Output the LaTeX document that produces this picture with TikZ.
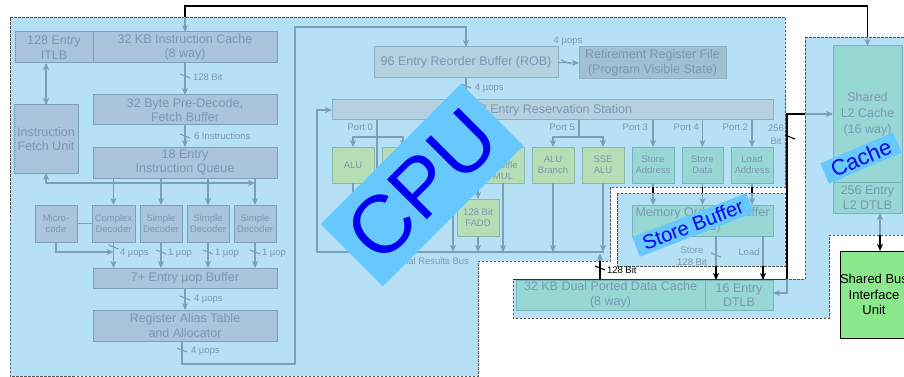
\documentclass[tikz,border=0pt]{standalone}
\usepackage{fontspec}
\setmainfont{Liberation Sans}
\usetikzlibrary{arrows.meta}
\definecolor{ovl}{RGB}{182,224,245}
\definecolor{regb}{RGB}{85,85,85}
\definecolor{txt}{RGB}{122,152,178}
\definecolor{lnc}{RGB}{122,160,182}
\definecolor{fefill}{RGB}{170,196,222}
\definecolor{fedraw}{RGB}{122,160,190}
\definecolor{rsfill}{RGB}{180,208,225}
\definecolor{rsdraw}{RGB}{140,175,198}
\definecolor{rrffill}{RGB}{160,192,212}
\definecolor{grfill}{RGB}{182,222,180}
\definecolor{grdraw}{RGB}{140,185,165}
\definecolor{tlfill}{RGB}{152,216,212}
\definecolor{tldraw}{RGB}{120,180,190}
\definecolor{busfill}{RGB}{140,232,140}
\definecolor{lblfill}{RGB}{102,200,255}
\definecolor{lbltext}{RGB}{0,0,245}
\newcommand{\bx}[7]{\node[#6, minimum width={(#4-#2)*1pt}, minimum height={(#5-#3)*1pt}] (#1) at ({(#2+#4)/2},{(#3+#5)/2}) {#7};}
\newcommand{\smk}[3][ln]{\draw[#1] ({#2-5},{#3-2}) -- ({#2+5},{#3+2});}
\tikzset{
  every node/.style={inner sep=0pt, outer sep=0pt, text=txt, align=center},
  big/.style={font=\fontsize{12.5}{14.5}\selectfont},
  small/.style={font=\fontsize{9.5}{11}\selectfont},
  fe/.style={draw=fedraw, fill=fefill, line width=1pt, big},
  dec/.style={draw=fedraw, fill=fefill, line width=1pt, small},
  rsbox/.style={draw=rsdraw, fill=rsfill, line width=1pt, big},
  rrfbox/.style={draw=rsdraw, fill=rrffill, line width=1pt, big},
  grbox/.style={draw=grdraw, fill=grfill, line width=1pt, small},
  tlbox/.style={draw=tldraw, fill=tlfill, line width=1pt, small},
  tlbig/.style={draw=tldraw, fill=tlfill, line width=1pt, big},
  region/.style={draw=regb, line width=0.8pt, dash pattern=on 2.5pt off 1.5pt},
  ln/.style={draw=lnc, line width=1.1pt},
  blk/.style={draw=black, line width=1.1pt},
  ar/.style={-{Stealth[length=7pt,width=6pt,inset=2pt]}},
  ra/.style={{Stealth[length=7pt,width=6pt,inset=2pt]}-},
  both/.style={{Stealth[length=7pt,width=6pt,inset=2pt]}-{Stealth[length=7pt,width=6pt,inset=2pt]}},
  lbl/.style={fill=lblfill, text=lbltext},
}
\begin{document}
\begin{tikzpicture}[x=1pt,y=-1pt]
\useasboundingbox (0,0) rectangle (904,377);
% ---------- regions ----------
\fill[ovl] (10,17) -- (785,17) -- (785,187) -- (610,187) -- (610,261) -- (478,261) -- (478,376) -- (10,376) -- cycle;
\draw[region] (10,17) -- (785,17) -- (785,187) -- (610,187) -- (610,261) -- (478,261) -- (478,376) -- (10,376) -- cycle;
\fill[ovl] (617,193) rectangle (785,266);
\draw[region] (617,193) rectangle (785,266);
\fill[ovl] (805,37) -- (915,37) -- (915,235) -- (829,235) -- (829,318) -- (513,318) -- (513,279) -- (805,279) -- cycle;
\draw[region] (805,37) -- (915,37) -- (915,235) -- (829,235) -- (829,318) -- (513,318) -- (513,279) -- (805,279) -- cycle;
% ---------- front end ----------
\bx{itlb}{15}{32}{93}{63}{fe}{128 Entry\\ITLB}
\bx{icache}{93}{32}{277}{63}{fe}{32 KB Instruction Cache\\(8 way)}
\bx{predec}{93}{95}{277}{125}{fe}{32 Byte Pre-Decode,\\Fetch Buffer}
\bx{iq}{93}{147}{277}{178}{fe}{18 Entry\\Instruction Queue}
\bx{ifu}{14}{105}{78}{173}{fe}{Instruction\\Fetch Unit}
\bx{mc}{35}{205}{77}{242}{dec}{Micro-\\code}
\bx{cd}{92}{205}{135}{242}{dec}{Complex\\Decoder}
\bx{sd1}{140}{205}{182}{242}{dec}{Simple\\Decoder}
\bx{sd2}{187}{205}{229}{242}{dec}{Simple\\Decoder}
\bx{sd3}{234}{205}{276}{242}{dec}{Simple\\Decoder}
\bx{uopb}{93}{268}{277}{288}{fe}{7+ Entry µop Buffer}
\bx{rat}{93}{310}{277}{341}{fe}{Register Alias Table\\and Allocator}
% front-end connectors
\draw[ln,ar] (icache.south) -- (predec.north);
\smk{185}{76}
\node[small, anchor=west] (l128a) at (193,77) {128 Bit};
\draw[ln,ar] (predec.south) -- (iq.north);
\smk{185}{136}
\node[small, anchor=west] (l6i) at (194,136) {6 Instructions};
\draw[ln,both] (ifu.north |- itlb.south) -- (ifu.north);
\draw[ln,both] (ifu.south) -- (46,183) -- (255,183);
\foreach \d in {cd,sd1,sd2,sd3} { \draw[ln,ar] (\d.north |- iq.south) -- (\d.north); }
\draw[ln] (mc.east) -- (cd.west);
\draw[ln,ar] (mc.south) -- (56,252) -- (113.5,252);
\foreach \d in {cd,sd1,sd2,sd3} { \draw[ln,ar] (\d.south) -- (\d.south |- uopb.north); }
\smk{113.5}{247}
\node[small, anchor=west] (l4a) at (120,253) {4 µops};
\smk{161}{252}
\node[small, anchor=west] (l1a) at (168,253) {1 µop};
\smk{208}{252}
\node[small, anchor=west] (l1b) at (215,253) {1 µop};
\smk{255}{252}
\node[small, anchor=west] (l1c) at (262,253) {1 µop};
\draw[ln,ar] (uopb.south) -- (rat.north);
\smk{185}{298}
\node[small, anchor=west] (l4b) at (194,299) {4 µops};
% ---------- back end ----------
\bx{rob}{374}{47}{558}{78}{rsbox}{96 Entry Reorder Buffer (ROB)}
\bx{rrf}{579}{47}{726}{79}{rrfbox}{Retirement Register File\\(Program Visible State)}
\bx{rs}{332}{100}{773}{120}{rsbox}{32 Entry Reservation Station}
\draw[ln,ar] (182,341) -- (182,364) -- (295,364) -- (295,27) -- (466,27) -- (rob.north);
\smk{182}{350}
\node[small, anchor=west] (l4c) at (191,351) {4 µops};
\draw[ln,ar] (rob.east) -- (rrf.west);
\smk{566}{62}
\node[small] (l4d) at (568,41) {4 µops};
\draw[ln,ar] (rob.south) -- (rob.south |- rs.north);
\smk{466}{86}
\node[small, anchor=west] (l4e) at (475,88) {4 µops};
% execution units
\bx{alu0}{332}{147}{374}{183}{grbox}{ALU}
\bx{sshalu}{382}{147}{424}{183}{grbox}{}
\bx{alu1}{432}{147}{474}{183}{grbox}{}
\bx{sshmul}{482}{147}{524}{183}{grbox}{SSE\\Shuffle\\MUL}
\bx{alubr}{532}{147}{574}{183}{grbox}{ALU\\Branch}
\bx{ssealu}{582}{147}{624}{183}{grbox}{SSE\\ALU}
\bx{fadd}{457}{199}{499}{236}{grbox}{128 Bit\\FADD}
\bx{sa}{632}{147}{674}{183}{tlbox}{Store\\Address}
\bx{sdat}{682}{147}{723}{183}{tlbox}{Store\\Data}
\bx{la}{731}{147}{773}{183}{tlbox}{Load\\Address}
% ports
\draw[ln] (377,120) -- (377,199);
\draw[ln,ar] (377,137) -| (alu0.north);
\draw[ln,ar] (377,137) -| (sshalu.north);
\node[small, anchor=east] (p0) at (373,127) {Port 0};
\draw[ln,ar] (478,120) -- (fadd.north);
\draw[ln,ar] (478,137) -| (alu1.north);
\draw[ln,ar] (478,137) -| (sshmul.north);
\draw[ln] (579,120) -- (579,137);
\draw[ln,ar] (579,137) -| (alubr.north);
\draw[ln,ar] (579,137) -| (ssealu.north);
\node[small, anchor=east] (p5) at (575,127) {Port 5};
\draw[ln,ar] (sa.north |- rs.south) -- (sa.north);
\node[small, anchor=east] (p3) at (648,127) {Port 3};
\draw[ln,ar] (sdat.north |- rs.south) -- (sdat.north);
\node[small, anchor=east] (p4) at (699,127) {Port 4};
\draw[ln,ar] (la.north |- rs.south) -- (la.north);
\node[small, anchor=east] (p2) at (748,127) {Port 2};
% results bus
\foreach \u in {alu0,sshalu,alu1,sshmul,fadd,alubr,ssealu} { \draw[ln,ar] (\u.south) -- (\u.south |- 0,252); }
\draw[ln,ar] (604,252) -- (317,252) -- (317,110) -- (rs.west);
\node[small, anchor=east] (lbus) at (469,261) {Internal Results Bus};
% memory
\bx{mob}{632}{205}{773}{236}{tlbig}{Memory Ordering Buffer\\(MOB)}
\bx{dcache}{516}{280}{705}{310}{tlbig}{32 KB Dual Ported Data Cache\\(8 way)}
\bx{dtlb}{705}{280}{773}{310}{tlbig}{16 Entry\\DTLB}
\foreach \u in {sa,sdat,la} {
  \draw[ln,ar] (\u.south) -- (\u.south |- mob.north);
  \draw[blk] ([yshift=-4pt]\u.south) -- ([yshift=-10pt]\u.south);
}
\draw[ln] ([xshift=13.5pt]mob.south) -- (716,266);
\draw[blk,ar] (716,266) -- (716,280);
\smk{716}{255}
\node[small] (lst) at (692,256) {Store\\[1pt]128 Bit};
\draw[ln] ([xshift=60.5pt]mob.south) -- (763,266);
\draw[blk,ar] (763,266) -- (763,280);
\node[small] (lld) at (749,252) {Load};
\draw[blk] (dcache.north -| 600,0) -- (600,261);
\draw[ln,ar] (600,261) -- (600,253.5);
\smk[blk]{600}{268}
\node[small, anchor=west, text=black] (l128b) at (607,270) {128 Bit};
% cache
\bx{l2}{833}{46}{902}{182}{tlbig}{Shared\\[1.5pt]L2 Cache\\[1.5pt](16 way)}
\bx{l2dtlb}{833}{182}{902}{213}{tlbig}{256 Entry\\L2 DTLB}
\node[draw=black, fill=busfill, line width=1pt, minimum width=68pt, minimum height=87pt, text=black, font=\fontsize{13}{15.5}\selectfont] (busu) at (874,294.5) {Shared Bus\\Interface\\Unit};
\coordinate (t1) at (185,17);
\coordinate (t2) at (867.5,37);
\draw[blk] (t1) -- (185,6) -- (867.5,6) -- (t2);
\draw[ln,ar] (t1) -- (icache.north);
\draw[ln,ar] (t2) -- (l2.north);
\coordinate (c256a) at (787,114);
\coordinate (c256b) at (805,114);
\coordinate (c256c) at (787,279);
\coordinate (c256d) at (787,293);
\coordinate (dtop) at (513,279);
\draw[ln,ar] (c256b) -- (l2.west |- c256b);
\draw[blk] (c256b) -- (c256a) -- (c256c);
\draw[draw=black!80, line width=0.9pt] (dtop) -- (c256c);
\draw[ln,ar] (c256c) -- (c256d) -- (dtlb.east |- c256d);
\smk[blk]{790}{137}
\node[small, anchor=east] (l256) at (784,134.5) {256\\[2pt]Bit};
\draw[ln,ra] (l2dtlb.south -| 880,0) -- (880,235);
\draw[blk,ar] (880,235) -- (busu.north -| 880,0);
% ---------- overlay labels ----------
\node[lbl, rotate=45, minimum width=199pt, minimum height=88pt, font=\fontsize{82}{82}\selectfont] (cpul) at (422,185) {CPU};
\node[lbl, rotate=23, minimum width=79pt, minimum height=22pt, font=\fontsize{22}{22}\selectfont] (cachel) at (861,158) {Cache};
\node[lbl, rotate=21, minimum width=122pt, minimum height=21pt, font=\fontsize{20}{20}\selectfont] (sbl) at (693,225) {Store Buffer};
\end{tikzpicture}
\end{document}
